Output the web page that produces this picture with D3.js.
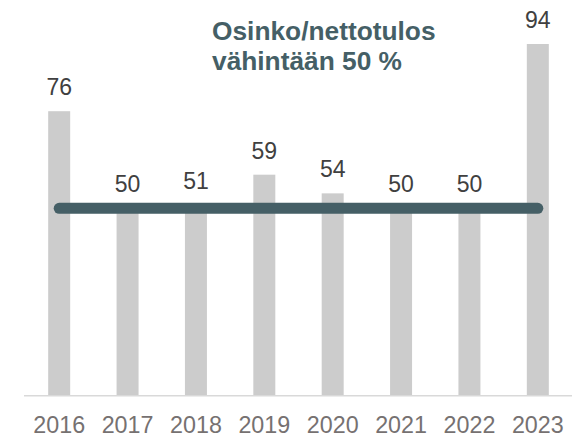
<!DOCTYPE html>
<html>
<head>
<meta charset="utf-8">
<script src="https://cdn.jsdelivr.net/npm/d3@7"></script>
<style>
  html, body { margin: 0; padding: 0; background: #fff; }
  svg { display: block; }
</style>
</head>
<body>
<svg id="chart" width="572" height="437"></svg>
<script>
const years = ["2016", "2017", "2018", "2019", "2020", "2021", "2022", "2023"];
const payout = [76, 50, 51, 59, 54, 50, 50, 94];
const target = 50;
const titleLines = ["Osinko/nettotulos", "vähintään 50 %"];

const svg = d3.select("#chart");
const W = 572, H = 437;

const x = d3.scaleBand().domain(years).range([25, 572]).paddingInner(0.678).paddingOuter(0.339);
const y = d3.scaleLinear().domain([0, 94]).range([395, 44]);
const barW = 22;

svg.selectAll("rect.bar").data(years).join("rect")
  .attr("class", "bar")
  .attr("x", d => x(d) + x.bandwidth() / 2 - barW / 2)
  .attr("width", barW)
  .attr("y", (d, i) => y(payout[i]))
  .attr("height", (d, i) => y(0) - y(payout[i]))
  .attr("fill", "#cccccc");

// baseline
svg.append("line")
  .attr("x1", 24).attr("x2", W)
  .attr("y1", y(0) + 0.75).attr("y2", y(0) + 0.75)
  .attr("stroke", "#d9d9d9").attr("stroke-width", 1.5);

// x axis labels
const xAxis = d3.axisBottom(x).tickSize(0).tickPadding(0);
const gx = svg.append("g").attr("transform", `translate(0,${y(0)})`).call(xAxis);
gx.select(".domain").remove();
gx.selectAll("text")
  .attr("dy", null).attr("y", 37.5)
  .attr("font-family", "Liberation Sans, Arial, sans-serif")
  .attr("font-size", 23.3)
  .attr("fill", "#767171");

// value labels
svg.selectAll("text.val").data(years).join("text")
  .attr("class", "val")
  .attr("x", d => x(d) + x.bandwidth() / 2)
  .attr("y", (d, i) => y(payout[i]) - 16)
  .attr("text-anchor", "middle")
  .attr("font-family", "Liberation Sans, Arial, sans-serif")
  .attr("font-size", 23)
  .attr("fill", "#404040")
  .text((d, i) => payout[i]);

// target line
svg.append("line")
  .attr("x1", x(years[0]) + x.bandwidth() / 2)
  .attr("x2", x(years[years.length - 1]) + x.bandwidth() / 2)
  .attr("y1", y(target)).attr("y2", y(target))
  .attr("stroke", "#455f66").attr("stroke-width", 11)
  .attr("stroke-linecap", "round");

// title
const t = svg.append("text")
  .attr("font-family", "Liberation Sans, Arial, sans-serif")
  .attr("font-size", 26.3)
  .attr("font-weight", "bold")
  .attr("fill", "#455f66");
titleLines.forEach((l, i) => {
  t.append("tspan").attr("x", 212).attr("y", 40 + i * 29.5).text(l);
});
</script>
</body>
</html>
